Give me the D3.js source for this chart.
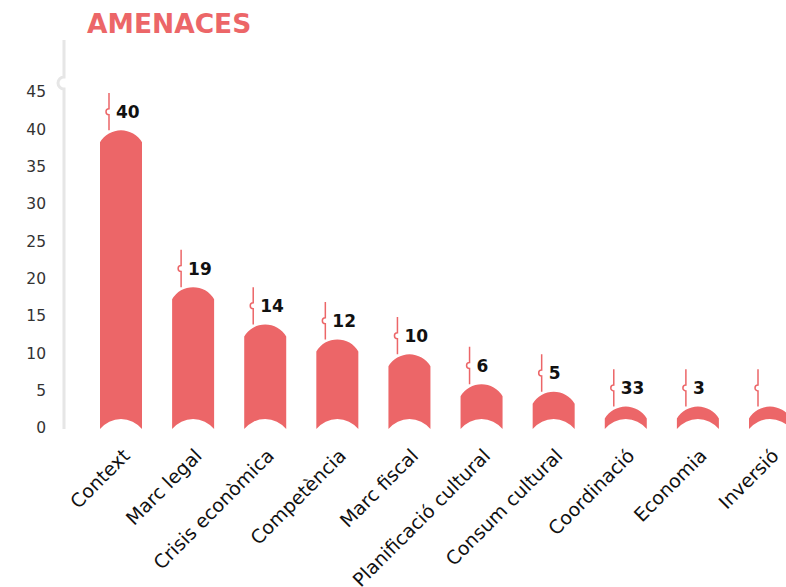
<!DOCTYPE html>
<html>
<head>
<meta charset="utf-8">
<script src="https://cdn.jsdelivr.net/npm/d3@7"></script>
<style>
  body { margin: 0; background: #fff; }
  svg { display: block; font-family: "DejaVu Sans", sans-serif; }
</style>
</head>
<body>
<script>
// data
var categories = ["Context", "Marc legal", "Crisis econòmica", "Competència", "Marc fiscal",
                  "Planificació cultural", "Consum cultural", "Coordinació", "Economia", "Inversió"];
var values = [40, 19, 14, 12, 10, 6, 5, 3, 3, 3];
var valueLabels = ["40", "19", "14", "12", "10", "6", "5", "33", "3", ""];
var yTicks = [0, 5, 10, 15, 20, 25, 30, 35, 40, 45];

var width = 786,
    height = 587,
    red = "#ec6668";

var svg = d3.select("body").append("svg")
    .attr("width", width)
    .attr("height", height);

var x = d3.scalePoint()
    .domain(categories)
    .range([121, 770]);

var y = d3.scaleLinear()
    .domain([0, 45])
    .range([429, 93]);

var barW = 42;

// title
svg.append("text")
    .attr("x", 87)
    .attr("y", 33)
    .attr("fill", red)
    .style("font-size", "26.5px")
    .style("font-weight", "bold")
    .text("AMENACES");

// y axis: grey line with a little notch near the top
var axisX = 64;
svg.append("path")
    .attr("d", "M" + axisX + ",40 L" + axisX + ",77 A6,6 0 0,0 " + axisX + ",89 L" + axisX + "," + y(0))
    .attr("fill", "none")
    .attr("stroke", "#e6e6e6")
    .attr("stroke-width", 3);

svg.append("g")
    .selectAll("text")
    .data(yTicks)
    .enter().append("text")
    .attr("x", 46)
    .attr("y", function(d) { return y(d) - 2; })
    .attr("dy", "0.4em")
    .attr("text-anchor", "end")
    .attr("fill", "#333")
    .style("font-size", "15.5px")
    .text(function(d) { return d; });

// bars with a domed top and a scooped bottom
function barPath(d, i) {
    var cx = x(categories[i]),
        x0 = cx - barW / 2,
        x1 = cx + barW / 2,
        yT = y(d),
        yB = y(0),
        sTop = 12,
        sBot = 10,
        rTop = (barW * barW / 4 + sTop * sTop) / (2 * sTop),
        rBot = (barW * barW / 4 + sBot * sBot) / (2 * sBot);
    return "M" + x0 + "," + yB +
        "L" + x0 + "," + (yT + sTop) +
        "A" + rTop + "," + rTop + " 0 0,1 " + x1 + "," + (yT + sTop) +
        "L" + x1 + "," + yB +
        "A" + rBot + "," + rBot + " 0 0,0 " + x0 + "," + yB + "Z";
}

svg.append("g")
    .selectAll("path")
    .data(values)
    .enter().append("path")
    .attr("d", barPath)
    .attr("fill", red);

// value stems with a small loop and the label
var stems = svg.append("g")
    .selectAll("g")
    .data(values)
    .enter().append("g");

stems.append("path")
    .attr("d", function(d, i) {
        var sx = x(categories[i]) - 12,
            top = y(d + 5),
            bot = y(d),
            mid = (top + bot) / 2;
        return "M" + sx + "," + top + "L" + sx + "," + (mid - 3) +
            "A3,3 0 0,0 " + sx + "," + (mid + 3) + "L" + sx + "," + bot;
    })
    .attr("fill", "none")
    .attr("stroke", red)
    .attr("stroke-width", 1.5);

stems.append("text")
    .attr("x", function(d, i) { return x(categories[i]) - 5; })
    .attr("y", function(d) { return (y(d + 5) + y(d)) / 2; })
    .attr("dy", "0.36em")
    .attr("fill", "#111")
    .style("font-size", "17px")
    .style("font-weight", "bold")
    .text(function(d, i) { return valueLabels[i]; });

// rotated category labels
svg.append("g")
    .selectAll("text")
    .data(categories)
    .enter().append("text")
    .attr("transform", function(d) {
        return "translate(" + (x(d) + 10) + ",457) rotate(-45)";
    })
    .attr("text-anchor", "end")
    .attr("fill", "#111")
    .style("font-size", "19px")
    .text(function(d) { return d; });
</script>
</body>
</html>
